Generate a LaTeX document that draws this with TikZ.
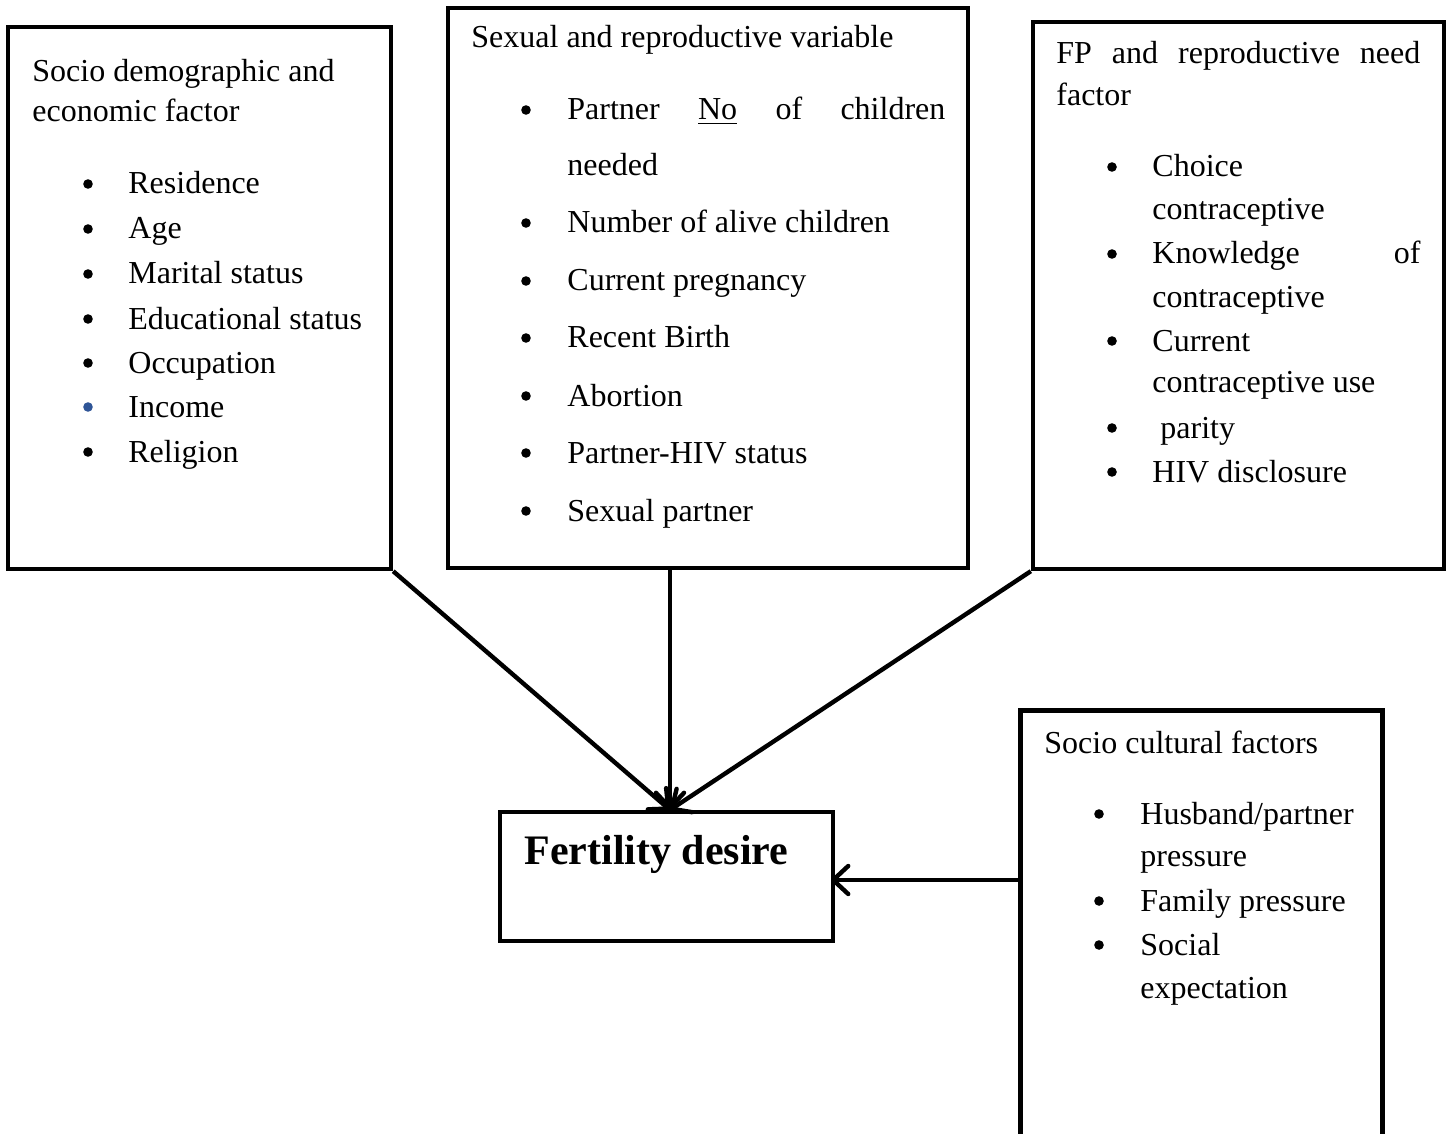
\documentclass[tikz,border=0pt]{standalone}
\usepackage{fontspec}
\setmainfont{Liberation Serif}
\usetikzlibrary{arrows.meta}
\definecolor{bulletblue}{RGB}{47,85,151}
\begin{document}
\begin{tikzpicture}[x=0.5pt,y=-0.5pt,
  box/.style={draw, line width=2.2pt, inner sep=0pt},
  txt/.style={inner sep=0pt, anchor=base west, font=\fontsize{16}{19}\selectfont},
  arr/.style={line width=2.2pt, -{Straight Barb[length=7.5pt,width=14pt,line width=2.2pt,round]}}]
\useasboundingbox (0,0) rectangle (1446,1134);

% boxes
\node[box, minimum width=191.5pt, minimum height=271pt] (b1) at (199.5,298) {};
\node[box, minimum width=260pt, minimum height=280pt] (b2) at (708,288) {};
\node[box, minimum width=205.5pt, minimum height=273.5pt] (b3) at (1238.5,295.5) {};
\node[box, minimum width=166.5pt, minimum height=64.5pt] (fd) at (666.5,876.5) {};
\node[inner sep=0pt, minimum width=180.5pt, minimum height=214.5pt] (soc) at (1201.5,925.5) {};
\draw[line width=2.2pt] (soc.south west) -- (soc.north west) -- (soc.north east) -- (soc.south east);

% box 1
\node[txt] (t1a) at (32,82) {Socio demographic and};
\node[txt] (t1b) at (32,122) {economic factor};
\foreach \t/\y [count=\i] in {Residence/194, Age/239, Marital status/284, Educational status/329, Occupation/373, Income/417, Religion/462}
  \node[txt] (l1-\i) at (128,\y) {\t};
\foreach \y in {194,239,284,329,373,462}
  \fill (88,\y-10) circle (2.4pt);
\fill[bulletblue] (88,407) circle (2.4pt);

% box 2
\node[txt] (t2) at (471,48) {Sexual and reproductive variable};
\node[txt] (l2-0) at (567,120) {\makebox[189pt][s]{Partner\hfill\underline{No}\hfill of\hfill children}};
\node[txt] (l2-0b) at (567,176) {needed};
\foreach \t/\y [count=\i] in {Number of alive children/233, Current pregnancy/291, Recent Birth/348, Abortion/406, Partner-HIV status/463, Sexual partner/521}
  \node[txt] (l2-\i) at (567,\y) {\t};
\foreach \y in {120,233,291,348,406,463,521}
  \fill (526,\y-10) circle (2.4pt);

% box 3
\node[txt] (t3a) at (1056,64) {\makebox[182pt][s]{FP\hfill and\hfill reproductive\hfill need}};
\node[txt] (t3b) at (1056,106) {factor};
\node[txt] (l3-1) at (1152,177) {Choice};
\node[txt] (l3-1b) at (1152,220) {contraceptive};
\node[txt] (l3-2) at (1152,264) {\makebox[134pt][s]{Knowledge\hfill of}};
\node[txt] (l3-2b) at (1152,307) {contraceptive};
\node[txt] (l3-3) at (1152,351) {Current};
\node[txt] (l3-3b) at (1152,393) {contraceptive use};
\node[txt] (l3-4) at (1160,438) {parity};
\node[txt] (l3-5) at (1152,482) {HIV disclosure};
\foreach \y in {177,264,351,438,482}
  \fill (1112,\y-10) circle (2.4pt);

% box 4
\node[txt] (t4) at (1044,753) {Socio cultural factors};
\node[txt] (l4-1) at (1140,824) {Husband/partner};
\node[txt] (l4-1b) at (1140,866) {pressure};
\node[txt] (l4-2) at (1140,911) {Family pressure};
\node[txt] (l4-3) at (1140,955) {Social};
\node[txt] (l4-3b) at (1140,998) {expectation};
\foreach \y in {824,911,955}
  \fill (1099,\y-10) circle (2.4pt);

% fertility desire
\node[inner sep=0pt, anchor=base west, font=\fontsize{21}{25}\selectfont\bfseries] (fdt) at (524,864) {Fertility desire};

% connectors
\coordinate (tip) at (670,810);
\draw[arr] (b1.south east) -- (tip);
\draw[arr] (tip |- b2.south) -- (tip);
\draw[arr] (b3.south west) -- (tip);
\coordinate (rtip) at (831,880);
\draw[arr] (rtip -| soc.west) -- (rtip);
\end{tikzpicture}
\end{document}
